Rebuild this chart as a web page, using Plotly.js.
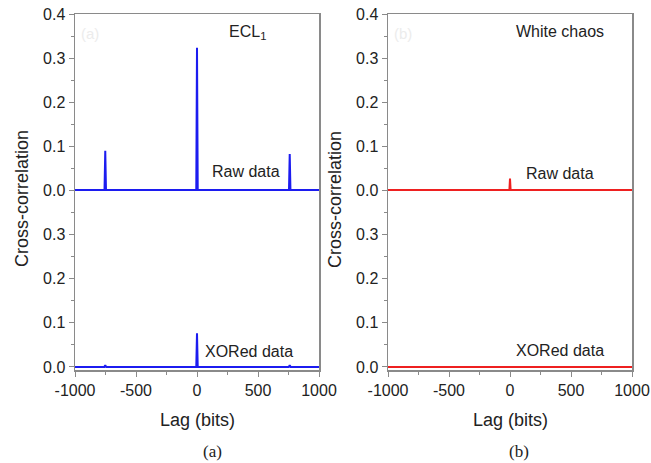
<!DOCTYPE html>
<html>
<head>
<meta charset="utf-8">
<script src="https://cdn.plot.ly/plotly-3.0.1.min.js"></script>
<style>html,body{margin:0;padding:0;background:#fff}#chart{width:651px;height:463px}</style>
</head>
<body>
<div id="chart"></div>
<script>
// ---- data ----
const lagEclRaw   = [-1000, -758, -752, -746, -6, 0, 6, 754, 760, 766, 1000];
const corrEclRaw  = [0.0, 0.0, 0.089, 0.0, 0.0, 0.323, 0.0, 0.0, 0.082, 0.0, 0.0];
const lagEclXor   = [-1000, -760, -752, -744, -6, 0, 6, 752, 760, 768, 1000];
const corrEclXor  = [0.0, 0.0, 0.004, 0.0, 0.0, 0.076, 0.0, 0.0, 0.004, 0.0, 0.0];
const lagWhiteRaw  = [-1000, -5, 0, 5, 1000];
const corrWhiteRaw = [0.0, 0.0, 0.026, 0.0, 0.0];
const lagWhiteXor  = [-1000, -8, 0, 8, 1000];
const corrWhiteXor = [0.0, 0.0, 0.001, 0.0, 0.0];
const xTicks = [-1000, -500, 0, 500, 1000];
const xMinor = [-750, -250, 250, 750];
const yTicksTop = [0, 0.1, 0.2, 0.3, 0.4];
const yTicksBottom = [0, 0.1, 0.2, 0.3];
const yMinor = [0.05, 0.15, 0.25, 0.35];

const W = 651, H = 463;
const px = v => v / W, py = v => 1 - v / H;

const blue = '#1c1cf0', red = '#ee2020';
const font = 'Liberation Sans, Arial, sans-serif';
const frame = '#8a8a8a';

const traces = [
  {x: lagEclRaw, y: corrEclRaw, xaxis: 'x3', yaxis: 'y', mode: 'lines', line: {color: blue, width: 2}},
  {x: lagEclXor, y: corrEclXor, xaxis: 'x', yaxis: 'y2', mode: 'lines', line: {color: blue, width: 2}},
  {x: lagWhiteRaw, y: corrWhiteRaw, xaxis: 'x4', yaxis: 'y3', mode: 'lines', line: {color: red, width: 2}},
  {x: lagWhiteXor, y: corrWhiteXor, xaxis: 'x2', yaxis: 'y4', mode: 'lines', line: {color: red, width: 2}}
];

const domL = [px(75), px(319)], domR = [px(388), px(632)];
const domTop = [py(192), py(14)], domBot = [py(370), py(190)];

function xAx(dom, anchor, labels) {
  return {
    domain: dom, anchor: anchor, range: [-1000, 1000], automargin: false,
    side: labels ? 'bottom' : 'top',
    showline: true, linecolor: frame, linewidth: 1.5, mirror: false, layer: 'below traces',
    showgrid: false, zeroline: false,
    ticks: labels ? 'outside' : '', ticklen: 5, tickcolor: frame, tickwidth: 1,
    tickvals: xTicks, ticktext: xTicks.map(String), showticklabels: labels,
    tickfont: {family: font, size: 16, color: '#222'},
    minor: labels ? {tickvals: xMinor, ticks: 'outside', ticklen: 3, tickcolor: frame} : undefined
  };
}
function yAx(dom, anchor, range, ticks) {
  return {
    domain: dom, anchor: anchor, range: range, automargin: false,
    showline: true, linecolor: frame, linewidth: 1.5, mirror: true, layer: 'below traces',
    showgrid: false, zeroline: false,
    ticks: 'outside', ticklen: 5, tickcolor: frame, tickwidth: 1,
    tickvals: ticks, ticktext: ticks.map(v => v.toFixed(1)),
    tickfont: {family: font, size: 16, color: '#222'},
    minor: {tickvals: yMinor, ticks: 'outside', ticklen: 3, tickcolor: frame}
  };
}

const ann = (x, y, text, opts) => Object.assign({
  xref: 'paper', yref: 'paper', x: px(x), y: py(y), text: text, showarrow: false,
  xanchor: 'center', yanchor: 'middle', font: {family: font, size: 16, color: '#222'}
}, opts || {});

const layout = {
  width: W, height: H, margin: {l: 0, r: 0, t: 0, b: 0},
  paper_bgcolor: '#fff', plot_bgcolor: 'rgba(0,0,0,0)', showlegend: false,
  xaxis: xAx(domL, 'y2', true),
  xaxis2: xAx(domR, 'y4', true),
  xaxis3: xAx(domL, 'y', false),
  xaxis4: xAx(domR, 'y3', false),
  yaxis: yAx(domTop, 'x3', [-0.0045, 0.4], yTicksTop),
  yaxis2: yAx(domBot, 'x', [-0.007, 0.4], yTicksBottom),
  yaxis3: yAx(domTop, 'x4', [-0.0045, 0.4], yTicksTop),
  yaxis4: yAx(domBot, 'x2', [-0.007, 0.4], yTicksBottom),
  annotations: [
    ann(247, 33, 'ECL<sub>1</sub>'),
    ann(246, 172, 'Raw data'),
    ann(249, 351, 'XORed data'),
    ann(560, 32, 'White chaos'),
    ann(560, 173, 'Raw data'),
    ann(560, 350, 'XORed data'),
    ann(22, 199, 'Cross-correlation', {textangle: -90, font: {family: font, size: 18, color: '#222'}}),
    ann(335, 199, 'Cross-correlation', {textangle: -90, font: {family: font, size: 18, color: '#222'}}),
    ann(197, 420, 'Lag (bits)', {font: {family: font, size: 18, color: '#222'}}),
    ann(510, 420, 'Lag (bits)', {font: {family: font, size: 18, color: '#222'}}),
    ann(212, 451, '(a)', {font: {family: 'Liberation Serif, Times New Roman, serif', size: 17, color: '#222'}}),
    ann(519, 451, '(b)', {font: {family: 'Liberation Serif, Times New Roman, serif', size: 17, color: '#222'}}),
    ann(90, 34, '(a)', {font: {family: font, size: 15, color: '#ececec'}}),
    ann(403, 34, '(b)', {font: {family: font, size: 15, color: '#ececec'}})
  ]
};

Plotly.newPlot('chart', traces, layout, {staticPlot: true, displayModeBar: false});
</script>
</body>
</html>
